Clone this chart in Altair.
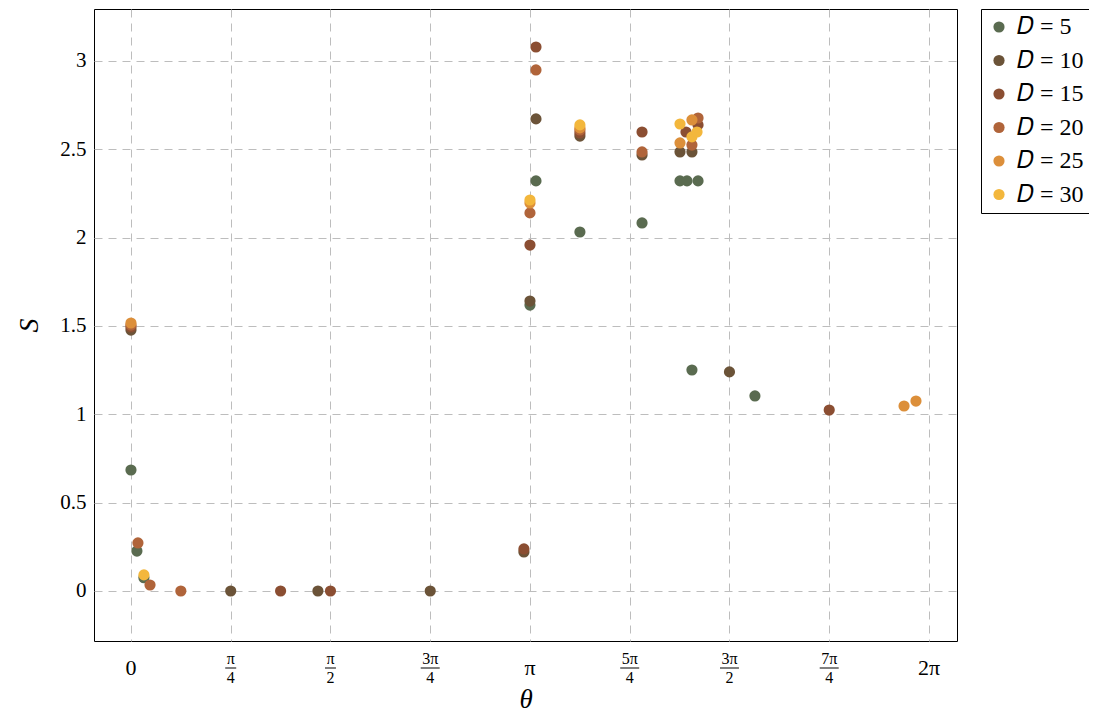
import math
import altair as alt
import pandas as pd

pi = math.pi

# ---- data ----
D_LABELS = ["𝐷 = 5", "𝐷 = 10", "𝐷 = 15", "𝐷 = 20", "𝐷 = 25", "𝐷 = 30"]
COLORS = ["#5a6b50", "#6b5338", "#8b4e32", "#b0643a", "#dc8f3a", "#f3b73c"]

theta_D5 = [0.0, 0.047, 0.102, pi, 3.189, 3.535, 4.024, 4.323, 4.378, 4.465, 4.417, 4.913]
S_D5 = [0.685, 0.226, 0.075, 1.618, 2.321, 2.032, 2.083, 2.321, 2.321, 2.321, 1.251, 1.104]

theta_D10 = [0.0, pi / 4, 1.472, 3 * pi / 4, 3.094, pi, 3.189, 3.535, 4.024, 4.323, 4.417, 3 * pi / 2]
S_D10 = [1.477, 0.0, 0.0, 0.0, 0.221, 1.641, 2.672, 2.575, 2.468, 2.485, 2.485, 1.240]

theta_D15 = [0.0, 3 * pi / 8, pi / 2, 3.094, pi, 3.189, 3.535, 4.024, 4.370, 4.465, 7 * pi / 4]
S_D15 = [1.494, 0.0, 0.0, 0.238, 1.958, 3.079, 2.592, 2.598, 2.598, 2.638, 1.024]

theta_D20 = [0.0, 0.055, 0.150, pi / 8, pi, 3.189, 3.535, 4.024, 4.417, 4.465]
S_D20 = [1.505, 0.272, 0.034, 0.0, 2.140, 2.949, 2.609, 2.485, 2.524, 2.677]

theta_D25 = [0.0, pi, 3.535, 4.323, 4.417, 6.087, 6.181]
S_D25 = [1.517, 2.196, 2.621, 2.536, 2.666, 1.047, 1.075]

theta_D30 = [0.102, pi, 3.535, 4.323, 4.417, 4.457]
S_D30 = [0.091, 2.213, 2.638, 2.643, 2.570, 2.598]

TICK_VALUES = [0, pi / 4, pi / 2, 3 * pi / 4, pi, 5 * pi / 4, 3 * pi / 2, 7 * pi / 4, 2 * pi]
TICK_NUM = ["0", "π", "π", "3π", "π", "5π", "3π", "7π", "2π"]
TICK_DEN = ["", "4", "2", "4", "", "4", "2", "4", ""]
Y_TICKS = [0, 0.5, 1, 1.5, 2, 2.5, 3]

X_DOMAIN = [-0.291, 6.504]
Y_DOMAIN = [-0.283, 3.294]

W, H = 863, 632

series = [
    (theta_D5, S_D5), (theta_D10, S_D10), (theta_D15, S_D15),
    (theta_D20, S_D20), (theta_D25, S_D25), (theta_D30, S_D30),
]
rows = []
order = 0
for lab, (th, ss) in zip(D_LABELS, series):
    for t, s in zip(th, ss):
        rows.append({"theta": t, "S": s, "D": lab, "ord": order})
        order += 1
df = pd.DataFrame(rows)

ticks = pd.DataFrame({"v": TICK_VALUES, "num": TICK_NUM, "den": TICK_DEN})
ticks["frac"] = ticks["den"] != ""
ticks["wide"] = ticks["num"].str.len() > 1

SERIF = "Liberation Serif"
GRID = "#bdbdbd"
xscale = alt.Scale(domain=X_DOMAIN, nice=False, zero=False)
yscale = alt.Scale(domain=Y_DOMAIN, nice=False, zero=False)

x_axis = alt.Axis(values=TICK_VALUES, labels=False, ticks=False, domain=False,
                  grid=True, gridColor=GRID, gridDash=[8, 6], gridWidth=1,
                  title="θ", titleFont=SERIF, titleFontStyle="italic",
                  titleFontWeight="normal", titleFontSize=27, titlePadding=45,
                  titleColor="black")

points = alt.Chart(df).mark_circle(size=125, opacity=1).encode(
    x=alt.X("theta:Q", scale=xscale, axis=x_axis, title="θ"),
    y=alt.Y("S:Q", scale=yscale, title="S",
            axis=alt.Axis(values=Y_TICKS, format="~g", ticks=False, domain=False, tickSize=0,
                          labelFont=SERIF, labelFontSize=21, labelColor="black", labelPadding=8,
                          grid=True, gridColor=GRID, gridDash=[8, 6], gridWidth=1,
                          title="S", titleFont=SERIF, titleFontStyle="italic",
                          titleFontWeight="normal", titleFontSize=28, titlePadding=16,
                          titleColor="black")),
    color=alt.Color("D:N", scale=alt.Scale(domain=D_LABELS, range=COLORS),
                    legend=alt.Legend(title=None, orient="none", legendX=887, legendY=0,
                                      direction="vertical", symbolType="circle",
                                      symbolSize=125, symbolStrokeWidth=0, symbolOpacity=1,
                                      labelFont=SERIF, labelFontSize=24, labelColor="black",
                                      labelOffset=6, rowPadding=9.5, padding=6,
                                      fillColor="white", strokeColor="black", cornerRadius=0)),
    order=alt.Order("ord:Q"),
)

xenc = alt.X("v:Q", scale=xscale, axis=x_axis, title="θ")

whole = alt.Chart(ticks).transform_filter("!datum.frac").mark_text(
    font=SERIF, fontSize=22, baseline="alphabetic", align="center", color="black"
).encode(x=xenc, y=alt.value(H + 34), text="num:N")

numer = alt.Chart(ticks).transform_filter("datum.frac").mark_text(
    font=SERIF, fontSize=16, baseline="alphabetic", align="center", color="black"
).encode(x=xenc, y=alt.value(H + 23), text="num:N")

denom = alt.Chart(ticks).transform_filter("datum.frac").mark_text(
    font=SERIF, fontSize=16, baseline="alphabetic", align="center", color="black"
).encode(x=xenc, y=alt.value(H + 42), text="den:N")

bar_narrow = alt.Chart(ticks).transform_filter("datum.frac && !datum.wide").mark_tick(
    orient="horizontal", size=11, thickness=1, color="black", opacity=1
).encode(x=xenc, y=alt.value(H + 27))

bar_wide = alt.Chart(ticks).transform_filter("datum.frac && datum.wide").mark_tick(
    orient="horizontal", size=19, thickness=1, color="black", opacity=1
).encode(x=xenc, y=alt.value(H + 27))

chart = alt.layer(points, whole, numer, denom, bar_narrow, bar_wide).properties(
    width=W, height=H,
    background="white",
    autosize=alt.AutoSizeParams(type="none"),
    padding={"left": 86, "top": 1, "right": 132, "bottom": 76},
).configure_view(stroke="black", strokeWidth=1)

chart.save("out.html", embed_options={"renderer": "svg", "actions": False})
